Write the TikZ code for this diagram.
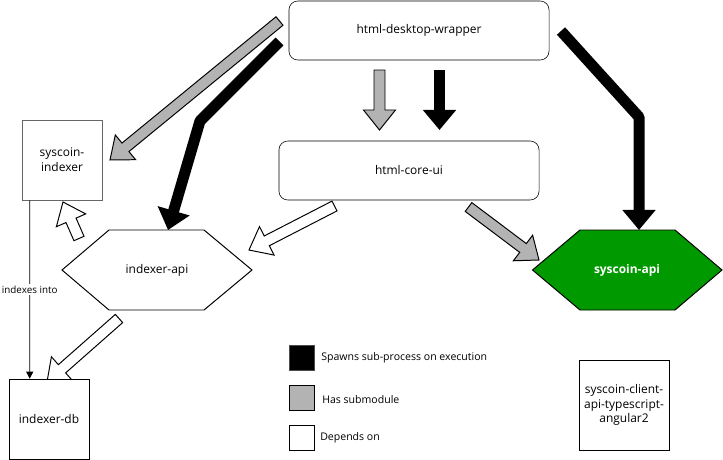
\documentclass[tikz,border=0pt]{standalone}
\usepackage{fontspec}
\setmainfont{Open Sans}
\usetikzlibrary{positioning,
        calc,
        arrows.meta}
\definecolor{subgray}{HTML}{B3B3B3}
\definecolor{apigreen}{HTML}{009900}

% flat block arrow, fill #1, from #2 to #3
\newcommand{\blockarrow}[3]{
  \coordinate (hb) at ($(#3)!0.5cm!(#2)$);
  \draw[fill=#1,line width=0.7pt,line join=miter] ($(#2)!0.1375cm!90:(#3)$) -- ($(hb)!0.1375cm!90:(#3)$) -- ($(hb)!0.4cm!90:(#3)$) -- (#3) -- ($(hb)!0.4cm!-90:(#3)$) -- ($(hb)!0.1375cm!-90:(#3)$) -- ($(#2)!0.1375cm!-90:(#3)$) -- cycle;
}

\begin{document}
\begin{tikzpicture}[x=0.025cm,y=-0.025cm,
    box/.style={draw,fill=white,minimum width=2cm,minimum height=2cm,align=center,inner sep=1pt,font=\fontsize{8.5}{10.5}\selectfont},
    rbox/.style={draw,fill=white,rounded corners=0.22cm,minimum width=6.5cm,minimum height=1.475cm,font=\fontsize{8.5}{10.5}\selectfont},
    hexline/.style={draw,line width=0.7pt,line join=miter},
    spawn/.style={line width=0.275cm,line join=round,-{Triangle[width=0.8cm,length=0.5cm]}},
    legbox/.style={draw,minimum size=0.625cm,inner sep=0pt},
    legtext/.style={anchor=west,inner sep=0pt,font=\fontsize{7.5}{9}\selectfont}]
  \useasboundingbox (0,0) rectangle (723,460);

  % arrow ends
  \coordinate (w2i-s) at (279.5,21);  \coordinate (w2i-e) at (110,160);
  \coordinate (w2a-s) at (279.5,41.5); \coordinate (w2a-b) at (200,121); \coordinate (w2a-e) at (168,230);
  \coordinate (w2c-s) at (379.5,70);  \coordinate (w2c-e) at (379.5,130);
  \coordinate (w2cb-s) at (439.5,70); \coordinate (w2cb-e) at (439.5,130);
  \coordinate (w2sa-s) at (561,31);   \coordinate (w2sa-b) at (639,117); \coordinate (w2sa-e) at (639,230);
  \coordinate (c2sa-s) at (468.5,207); \coordinate (c2sa-e) at (539,260);
  \coordinate (c2ia-s) at (334.5,206); \coordinate (c2ia-e) at (249,250);
  \coordinate (ia2si-s) at (79,238.5); \coordinate (ia2si-e) at (63,202);
  \coordinate (ia2db-s) at (119,318.5); \coordinate (ia2db-e) at (47,382);

  \blockarrow{subgray}{w2i-s}{w2i-e}
  \blockarrow{subgray}{w2c-s}{w2c-e}
  \blockarrow{subgray}{c2sa-s}{c2sa-e}
  \blockarrow{white}{c2ia-s}{c2ia-e}
  \blockarrow{white}{ia2si-s}{ia2si-e}
  \blockarrow{white}{ia2db-s}{ia2db-e}
  \draw[spawn] (w2a-s) -- (w2a-b) -- (w2a-e);
  \draw[spawn] (w2cb-s) -- (w2cb-e);
  \draw[spawn] (w2sa-s) -- (w2sa-b) -- (w2sa-e);

  % nodes
  \node[rbox] (dw) at (419,30.5) {html-desktop-wrapper};
  \node[rbox] (cu) at (409,170.5) {html-core-ui};
  \node[box,draw=black!60] (si) at (62,160) {syscoin-\\indexer};
  \node[box] (db) at (49,419) {indexer-db};
  \node[box,minimum width=2.25cm,minimum height=2.25cm] (cl) at (624,405) {syscoin-client-\\api-typescript-\\angular2};

  \draw[hexline,fill=white] (62,270) -- (109,230) -- (204,230) -- (252,270) -- (204,310) -- (109,310) -- cycle;
  \node[font=\fontsize{8.5}{10.5}\selectfont] (ia) at (157,270) {indexer-api};
  \draw[hexline,fill=apigreen] (532.5,270) -- (580,230) -- (675,230) -- (722,270) -- (675,310) -- (580,310) -- cycle;
  \node[text=white,font=\fontsize{8.5}{10.5}\selectfont\bfseries] (sa) at (627,270) {syscoin-api};

  \draw[-{Triangle[width=5pt,length=5pt]},line width=0.6pt] ([xshift=0.2cm]si.south west) -- ([xshift=0.525cm]db.north west)
    node[midway,fill=white,inner sep=1pt,font=\fontsize{7}{8}\selectfont] (lbl) {indexes into};

  % legend
  \node[legbox,fill=black,draw=black!70] (lspawn) at (301.5,357.5) {};
  \node[legbox,fill=subgray] (lsub) at (301.5,397.5) {};
  \node[legbox,fill=white] (ldep) at (301.5,437.5) {};
  \node[legtext] (tspawn) at (321,357.5) {Spawns sub-process on execution};
  \node[legtext] (tsub) at (322,399.5) {Has submodule};
  \node[legtext] (tdep) at (320,438) {Depends on};
\end{tikzpicture}
\end{document}
